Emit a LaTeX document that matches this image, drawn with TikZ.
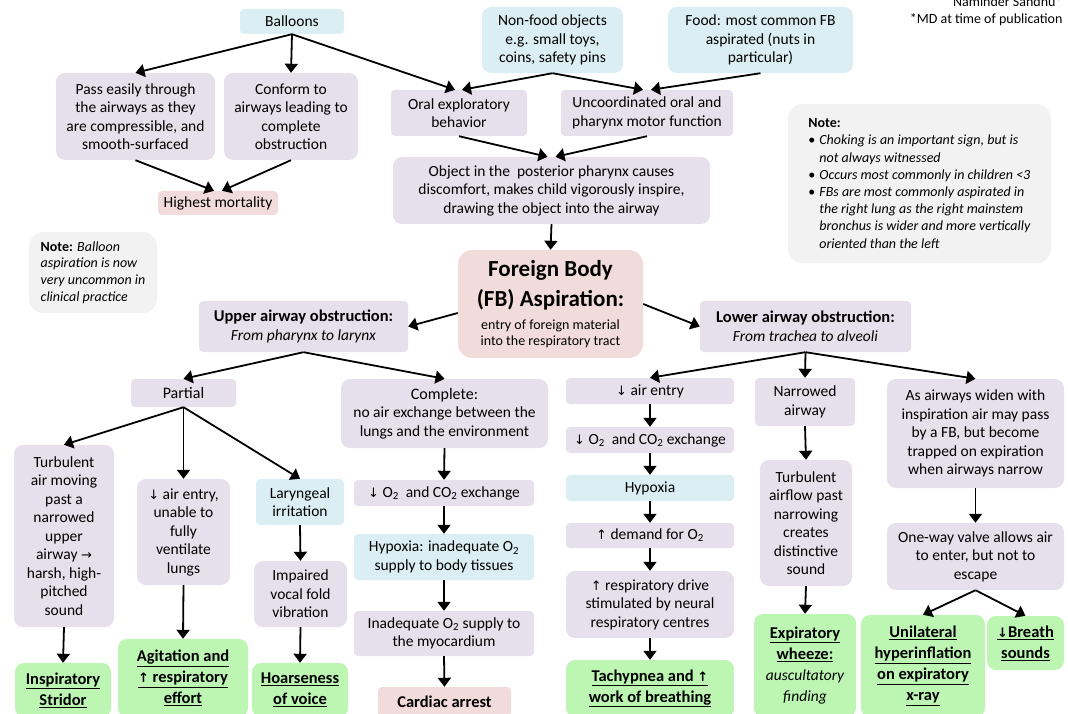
\documentclass[tikz,border=0pt]{standalone}
\usepackage{fontspec}
\setmainfont{Carlito}
\newfontfamily\symfont{DejaVu Sans}
\usetikzlibrary{arrows.meta}

\definecolor{boxblue}{RGB}{219,238,244}
\definecolor{boxpurple}{RGB}{229,224,236}
\definecolor{boxpink}{RGB}{242,220,219}
\definecolor{boxgray}{RGB}{242,242,242}
\definecolor{boxgreen}{RGB}{188,246,178}

\newcommand{\normsz}{\fontsize{15.5}{18.5}\selectfont}
\newcommand{\subsz}{\fontsize{14}{16.5}\selectfont}
\newcommand{\dnar}{{\symfont\fontsize{13}{15}\selectfont ↓}}
\newcommand{\upar}{{\symfont\fontsize{13}{15}\selectfont ↑}}
\newcommand{\rtar}{{\symfont\fontsize{13}{15}\selectfont →}}
\newcommand{\ul}[1]{\underline{#1}}

\tikzset{
  box/.style={rectangle, rounded corners=9pt, inner sep=2pt, align=center, font=\normsz},
  purp/.style={box, fill=boxpurple},
  blue/.style={box, fill=boxblue},
  pink/.style={box, fill=boxpink},
  note/.style={box, fill=boxgray, rounded corners=14pt},
  sign/.style={box, fill=boxgreen, font=\fontsize{16.5}{21}\selectfont\bfseries},
  small/.style={rounded corners=4pt},
  arr/.style={-{Triangle[width=13pt,length=9pt]}, line width=1.8pt},
}

\begin{document}
\begin{tikzpicture}[x=1pt, y=-1pt]
    \useasboundingbox (0,0) rectangle (1068,714);

    % Author
    \node[anchor=east, align=right, font=\fontsize{14}{17}\selectfont] (author) at (1066,11) {Naminder Sandhu*\\*MD at time of publication};

    % Causes
    \node[blue, small, minimum width=104pt, minimum height=25pt] (balloons) at (292,21.5) {Balloons};
    \node[blue, minimum width=141pt, minimum height=66pt] (nonfood) at (552.5,40) {Non-food objects\\e.g. small toys,\\coins, safety pins};
    \node[blue, minimum width=185pt, minimum height=66pt] (food) at (760.5,40) {Food: most common FB\\aspirated (nuts in\\particular)};
    \node[purp, minimum width=159pt, minimum height=87pt] (pass) at (135.5,116.5) {Pass easily through\\the airways as they\\are compressible, and\\smooth-surfaced};
    \node[purp, minimum width=134pt, minimum height=87pt] (conform) at (291,116.5) {Conform to\\airways leading to\\complete\\obstruction};
    \node[purp, small, minimum width=136pt, minimum height=46pt] (oral) at (459,113) {Oral exploratory\\behavior};
    \node[purp, small, minimum width=172pt, minimum height=46pt] (uncoord) at (647,113) {Uncoordinated oral and\\pharynx motor function};
    \node[pink, small, minimum width=120pt, minimum height=24pt] (mortality) at (218,203) {Highest mortality};
    \node[purp, minimum width=317pt, minimum height=67pt] (object) at (551.5,190.5) {Object in the\ \ posterior pharynx causes\\discomfort, makes child vigorously inspire,\\drawing the object into the airway};

    % Notes
    \node[note, align=left, inner xsep=13pt, minimum width=263pt, minimum height=159pt, font=\fontsize{14}{17.2}\selectfont] (noteR) at (919.5,183.5) {\textbf{Note:}\\
      \makebox[11pt][l]{\textbullet}\textit{Choking is an important sign, but is}\\
      \hspace*{11pt}\textit{not always witnessed}\\
      \makebox[11pt][l]{\textbullet}\textit{Occurs most commonly in children <3}\\
      \makebox[11pt][l]{\textbullet}\textit{FBs are most commonly aspirated in}\\
      \hspace*{11pt}\textit{the right lung as the right mainstem}\\
      \hspace*{11pt}\textit{bronchus is wider and more vertically}\\
      \hspace*{11pt}\textit{oriented than the left}};
    \node[note, align=left, inner xsep=9pt, minimum width=128pt, minimum height=81pt, font=\fontsize{14}{16.8}\selectfont] (noteL) at (93,272.5) {\textbf{Note:} \textit{Balloon}\\\textit{aspiration is now}\\\textit{very uncommon in}\\\textit{clinical practice}};

    % Centre
    \node[pink, rounded corners=14pt, minimum width=185pt, minimum height=108pt, font=\fontsize{23}{30}\selectfont\bfseries] (fb) at (550.5,304) {Foreign Body\\(FB) Aspiration:\\[-7pt]{\subsz\mdseries entry of foreign material}\\[-14pt]{\subsz\mdseries into the respiratory tract}};
    \node[purp, small, minimum width=209pt, minimum height=51pt] (upper) at (303.5,326.5) {{\fontsize{16.5}{20}\selectfont\bfseries Upper airway obstruction:}\\\textit{From pharynx to larynx}};
    \node[purp, small, minimum width=211pt, minimum height=51pt] (lower) at (805.5,326.5) {{\fontsize{16.5}{20}\selectfont\bfseries Lower airway obstruction:}\\\textit{From trachea to alveoli}};

    % Upper airway
    \node[purp, small, minimum width=105pt, minimum height=28pt] (partial) at (183.5,393) {\fontsize{16}{19}\selectfont Partial};
    \node[purp, minimum width=207pt, minimum height=69pt] (complete) at (444.5,413.5) {{\fontsize{16}{20}\selectfont Complete:}\\no air exchange between the\\lungs and the environment};
    \node[purp, minimum width=100pt, minimum height=182pt] (turbU) at (64,536) {Turbulent\\air moving\\past a\\narrowed\\upper\\airway \rtar\\harsh, high-\\pitched\\sound};
    \node[purp, minimum width=93pt, minimum height=106pt] (airU) at (183.5,532) {\dnar\ air entry,\\unable to\\fully\\ventilate\\lungs};
    \node[blue, small, minimum width=88pt, minimum height=46pt] (laryn) at (300,502) {Laryngeal\\irritation};
    \node[purp, minimum width=93pt, minimum height=66pt] (impaired) at (300.5,594) {Impaired\\vocal fold\\vibration};
    \node[sign, minimum width=96pt, minimum height=54pt] (stridor) at (63,690) {\ul{Inspiratory}\\\ul{Stridor}};
    \node[sign, minimum width=130pt, minimum height=78pt] (agitation) at (183,678) {\ul{Agitation and}\\\ul{\upar\ respiratory}\\\ul{effort}};
    \node[sign, minimum width=96pt, minimum height=54pt] (hoarse) at (300,690) {\ul{Hoarseness}\\\ul{of voice}};
    \node[purp, small, minimum width=180pt, minimum height=26pt] (o2U) at (444,493) {\dnar\ O\textsubscript{2}\ \ and CO\textsubscript{2} exchange};
    \node[blue, small, minimum width=180pt, minimum height=46pt] (hypoxU) at (444,557) {Hypoxia: inadequate O\textsubscript{2}\\supply to body tissues};
    \node[purp, small, minimum width=180pt, minimum height=45pt] (inadequate) at (444,633.5) {Inadequate O\textsubscript{2} supply to\\the myocardium};
    \node[pink, small, minimum width=133pt, minimum height=30pt, font=\fontsize{16.5}{20}\selectfont\bfseries] (cardiac) at (444.5,702) {Cardiac arrest};

    % Lower airway
    \node[purp, small, minimum width=168pt, minimum height=26pt] (airL) at (650,391) {\dnar\ air entry};
    \node[purp, small, minimum width=100pt, minimum height=48pt] (narrowed) at (805,402) {Narrowed\\airway};
    \node[purp, minimum width=177pt, minimum height=109pt] (widen) at (975.5,433.5) {As airways widen with\\inspiration air may pass\\by a FB, but become\\trapped on expiration\\when airways narrow};
    \node[purp, small, minimum width=168pt, minimum height=26pt] (o2L) at (650,440) {\dnar\ O\textsubscript{2}\ \ and CO\textsubscript{2} exchange};
    \node[blue, small, minimum width=168pt, minimum height=26pt] (hypoxL) at (650,488) {Hypoxia};
    \node[purp, small, minimum width=168pt, minimum height=25pt] (demand) at (650,535.5) {\upar\ demand for O\textsubscript{2}};
    \node[purp, minimum width=168pt, minimum height=67pt] (drive) at (650,604.5) {\upar\ respiratory drive\\stimulated by neural\\respiratory centres};
    \node[sign, minimum width=168pt, minimum height=57pt] (tachy) at (650,688.5) {\ul{Tachypnea and \upar}\\\ul{work of breathing}};
    \node[purp, minimum width=92pt, minimum height=126pt] (turbL) at (806,523) {Turbulent\\airflow past\\narrowing\\creates\\distinctive\\sound};
    \node[sign, minimum width=102pt, minimum height=103pt] (wheeze) at (805,665.5) {\ul{Expiratory}\\\ul{wheeze:}\\{\normsz\mdseries\itshape auscultatory}\\{\normsz\mdseries\itshape finding}};
    \node[purp, minimum width=177pt, minimum height=67pt] (valve) at (975.5,556.5) {One-way valve allows air\\to enter, but not to\\escape};
    \node[sign, minimum width=124pt, minimum height=102pt] (unilat) at (923,666) {\ul{Unilateral}\\\ul{hyperinflation}\\\ul{on expiratory}\\\ul{x-ray}};
    \node[sign, minimum width=77pt, minimum height=54pt] (breath) at (1025.5,643) {\ul{\dnar Breath}\\\ul{sounds}};

    % Arrows, causes
    \draw[arr] (balloons.south) -- (pass.north);
    \draw[arr] (balloons.south) -- (conform.north);
    \draw[arr] (balloons.south) -- ([xshift=-4pt]oral.north);
    \draw[arr] (nonfood.south) -- ([xshift=3pt]oral.north);
    \draw[arr] (nonfood.south) -- ([xshift=-4pt]uncoord.north);
    \draw[arr] (food.south) -- ([xshift=4pt]uncoord.north);
    \draw[arr] (pass.south) -- ([xshift=-4pt]mortality.north);
    \draw[arr] (conform.south) -- ([xshift=4pt]mortality.north);
    \draw[arr] (oral.south) -- ([xshift=-4pt]object.north);
    \draw[arr] (uncoord.south) -- ([xshift=4pt]object.north);
    \draw[arr] (object.south) -- (fb.north);

    % Arrows, split
    \draw[arr] ([yshift=-9pt]fb.west) -- (upper.east);
    \draw[arr] (fb.east) -- (lower.west);

    % Arrows, upper airway
    \draw[arr] (upper.south) -- (partial.north);
    \draw[arr] (upper.south) -- (complete.north);
    \draw[arr] (partial.south) -- (turbU.north);
    \draw[arr] (partial.south) -- (airU.north);
    \draw[arr] (partial.south) -- (laryn.north);
    \draw[arr] (turbU.south) -- (stridor.north);
    \draw[arr] (airU.south) -- (agitation.north);
    \draw[arr] (laryn.south) -- (impaired.north);
    \draw[arr] (impaired.south) -- (hoarse.north);
    \draw[arr] (complete.south) -- (o2U.north);
    \draw[arr] (o2U.south) -- (hypoxU.north);
    \draw[arr] (hypoxU.south) -- (inadequate.north);
    \draw[arr] (inadequate.south) -- (cardiac.north);

    % Arrows, lower airway
    \draw[arr] (lower.south) -- (airL.north);
    \draw[arr] (lower.south) -- (narrowed.north);
    \draw[arr] (lower.south) -- (widen.north);
    \draw[arr] (airL.south) -- (o2L.north);
    \draw[arr] (o2L.south) -- (hypoxL.north);
    \draw[arr] (hypoxL.south) -- (demand.north);
    \draw[arr] (demand.south) -- (drive.north);
    \draw[arr] (drive.south) -- (tachy.north);
    \draw[arr] (narrowed.south) -- (turbL.north);
    \draw[arr] (turbL.south) -- (wheeze.north);
    \draw[arr] (widen.south) -- (valve.north);
    \draw[arr] (valve.south) -- (unilat.north);
    \draw[arr] (valve.south) -- (breath.north);
\end{tikzpicture}
\end{document}
